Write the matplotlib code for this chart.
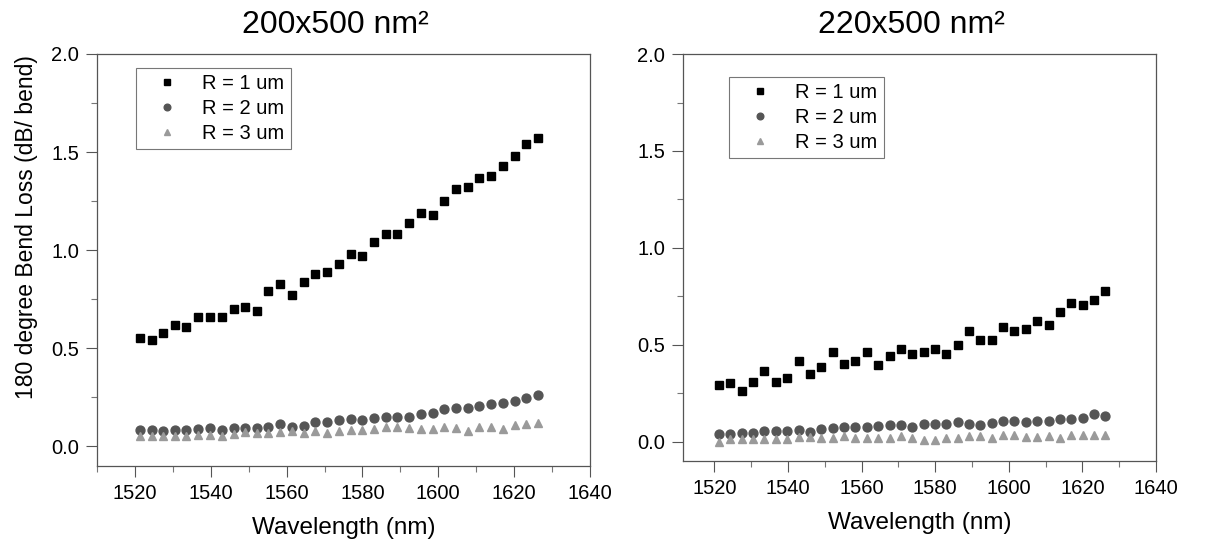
import matplotlib
matplotlib.use("Agg")
import matplotlib.pyplot as plt
from matplotlib.ticker import MultipleLocator

plt.rcParams["font.family"] = ["Liberation Sans", "DejaVu Sans"]

wavelength = [1521.3, 1524.4, 1527.5, 1530.6, 1533.6, 1536.7, 1539.8, 1542.9,
              1546.0, 1549.1, 1552.2, 1555.2, 1558.3, 1561.4, 1564.5, 1567.6,
              1570.7, 1573.8, 1576.9, 1579.9, 1583.0, 1586.1, 1589.2, 1592.3,
              1595.4, 1598.5, 1601.5, 1604.6, 1607.7, 1610.8, 1613.9, 1617.0,
              1620.1, 1623.1, 1626.2]

# 200x500 nm^2 waveguide
left_r1 = [0.55, 0.54, 0.58, 0.62, 0.61, 0.66, 0.66, 0.66, 0.70, 0.71, 0.69,
           0.79, 0.83, 0.77, 0.84, 0.88, 0.89, 0.93, 0.98, 0.97, 1.04, 1.08,
           1.08, 1.14, 1.19, 1.18, 1.25, 1.31, 1.32, 1.37, 1.38, 1.43, 1.48,
           1.54, 1.57]
left_r2 = [0.084, 0.084, 0.076, 0.084, 0.084, 0.088, 0.093, 0.084, 0.096,
           0.096, 0.096, 0.101, 0.113, 0.101, 0.105, 0.125, 0.125, 0.135,
           0.140, 0.135, 0.144, 0.152, 0.152, 0.149, 0.166, 0.172, 0.189,
           0.196, 0.196, 0.208, 0.215, 0.223, 0.233, 0.247, 0.264]
left_r3 = [0.054, 0.054, 0.054, 0.054, 0.054, 0.059, 0.059, 0.054, 0.064,
           0.071, 0.068, 0.068, 0.071, 0.076, 0.068, 0.076, 0.068, 0.076,
           0.081, 0.084, 0.091, 0.098, 0.098, 0.093, 0.091, 0.091, 0.098,
           0.095, 0.076, 0.101, 0.101, 0.091, 0.110, 0.112, 0.117]

# 220x500 nm^2 waveguide
right_r1 = [0.291, 0.300, 0.262, 0.310, 0.365, 0.310, 0.328, 0.414, 0.348,
            0.386, 0.460, 0.403, 0.414, 0.460, 0.396, 0.443, 0.478, 0.452,
            0.460, 0.478, 0.452, 0.498, 0.572, 0.526, 0.526, 0.593, 0.572,
            0.583, 0.621, 0.603, 0.667, 0.714, 0.705, 0.733, 0.779]
right_r2 = [0.038, 0.038, 0.047, 0.047, 0.055, 0.055, 0.055, 0.059, 0.052,
            0.067, 0.069, 0.076, 0.076, 0.076, 0.081, 0.084, 0.084, 0.076,
            0.093, 0.093, 0.093, 0.103, 0.090, 0.086, 0.098, 0.107, 0.107,
            0.102, 0.107, 0.107, 0.116, 0.119, 0.124, 0.141, 0.133]
right_r3 = [0.0, 0.012, 0.012, 0.012, 0.012, 0.012, 0.012, 0.024, 0.024,
            0.021, 0.021, 0.028, 0.021, 0.021, 0.021, 0.021, 0.028, 0.021,
            0.010, 0.010, 0.021, 0.021, 0.029, 0.029, 0.021, 0.033, 0.033,
            0.024, 0.024, 0.029, 0.021, 0.033, 0.033, 0.033, 0.033]

labels = ["R = 1 um", "R = 2 um", "R = 3 um"]
titles = ["200x500 nm²", "220x500 nm²"]


def draw_panel(ax, series, xlim, legend_anchor):
    styles = [("s", "black", 6.2), ("o", "#555555", 6.4), ("^", "#9a9a9a", 6.2)]
    for values, label, (marker, color, size) in zip(series, labels, styles):
        ax.plot(wavelength, values, linestyle="none", marker=marker,
                color=color, markersize=size, label=label)
    ax.set_xlim(*xlim)
    ax.set_ylim(-0.1, 2.0)
    ax.xaxis.set_major_locator(MultipleLocator(20))
    ax.xaxis.set_minor_locator(MultipleLocator(10))
    ax.yaxis.set_major_locator(MultipleLocator(0.5))
    ax.yaxis.set_minor_locator(MultipleLocator(0.25))
    ax.yaxis.set_major_formatter(plt.FormatStrFormatter("%.1f"))
    ax.tick_params(which="major", direction="out", length=8, width=0.8,
                   color="#555555", labelsize=14.5, pad=5)
    ax.tick_params(which="minor", direction="out", length=4, width=0.8,
                   color="#777777")
    for spine in ax.spines.values():
        spine.set_color("#555555")
        spine.set_linewidth(0.9)
    ax.set_xlabel("Wavelength (nm)", fontsize=17.5, labelpad=10)
    leg = ax.legend(loc="upper left", bbox_to_anchor=legend_anchor,
                    fontsize=14.5, markerscale=0.75, frameon=True,
                    fancybox=False, edgecolor="#555555", handletextpad=0.5,
                    borderpad=0.3, labelspacing=0.3, handlelength=2.5,
                    borderaxespad=0)
    leg.get_frame().set_linewidth(0.8)


def main():
    fig = plt.figure(figsize=(12.11, 5.44), dpi=100)
    ax_left = fig.add_axes([0.0801, 0.1434, 0.4071, 0.7574])
    ax_right = fig.add_axes([0.564, 0.1526, 0.3906, 0.748])

    draw_panel(ax_left, [left_r1, left_r2, left_r3], (1510, 1640), (0.079, 0.966))
    draw_panel(ax_right, [right_r1, right_r2, right_r3], (1511.5, 1640), (0.097, 0.943))

    fig.text(335 / 1211, 1 - 33 / 544, titles[0], fontsize=23,
             ha="center", va="baseline")
    fig.text(911 / 1211, 1 - 33 / 544, titles[1], fontsize=23,
             ha="center", va="baseline")
    fig.text(27 / 1211, 1 - 227 / 544, "180 degree Bend Loss (dB/ bend)",
             fontsize=16.5, rotation=90, ha="center", va="center")

    fig.savefig("out.png", dpi=100)


if __name__ == "__main__":
    main()
